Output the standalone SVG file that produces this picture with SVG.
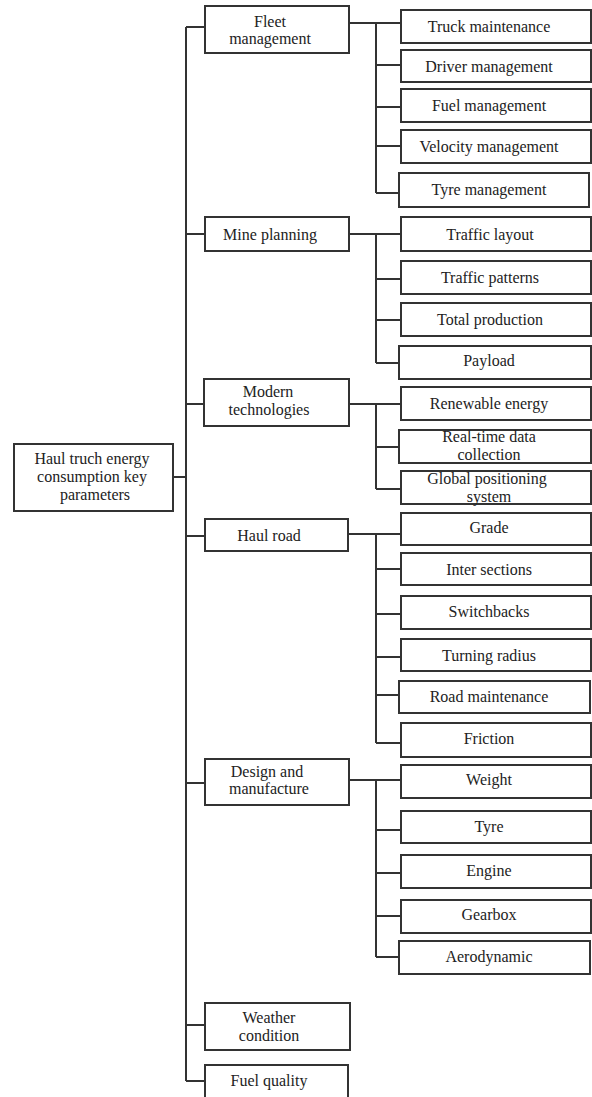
<svg xmlns="http://www.w3.org/2000/svg" width="592" height="1097" viewBox="0 0 592 1097">
<style>
rect{fill:#fff;stroke:#333;stroke-width:2}
.c path{fill:none;stroke:#333;stroke-width:2}
text{font-family:"Liberation Serif","Times New Roman",serif;font-size:16px;fill:#222;text-anchor:middle}
.s{font-size:16px}
</style>
<rect x="0" y="0" width="592" height="1097" style="stroke:none"/>
<g class="c" id="connectors">
<path d="M173,477H186M186,27V1081"/>
<path d="M186,27H205M186,234H205M186,404H204M186,536H205M186,783H205M186,1025H205M186,1081H205"/>
<path d="M349,23H401M376,23V193M376,65H401M376,107H401M376,146H401M376,193H399"/>
<path d="M349,234H401M376,234V363M376,279H401M376,320H401M376,363H399"/>
<path d="M349,404H401M376,404V489M376,447H399M376,489H401"/>
<path d="M348,534H401M376,534V743M376,569H401M376,614H401M376,657H401M376,695H399M376,743H401"/>
<path d="M349,780H401M376,780V957M376,830H401M376,873H401M376,916H401M376,957H399"/>
</g>
<g id="root"><rect x="14" y="444" width="159" height="67"/><text x="92" y="464">Haul truch energy</text><text x="92" y="482">consumption key</text><text x="95" y="500">parameters</text></g>
<g id="fleet"><rect x="205" y="6" width="144" height="47"/><text x="270" y="27">Fleet</text><text x="270" y="44">management</text></g>
<g id="mine"><rect x="205" y="217" width="144" height="34"/><text x="270" y="240">Mine planning</text></g>
<g id="modern"><rect x="204" y="379" width="145" height="47"/><text x="268" y="397">Modern</text><text x="269" y="415">technologies</text></g>
<g id="haul"><rect x="205" y="519" width="143" height="32"/><text x="269" y="541">Haul road</text></g>
<g id="design"><rect x="205" y="759" width="144" height="46"/><text x="267" y="777">Design and</text><text x="269" y="794">manufacture</text></g>
<g id="weather"><rect x="205" y="1003" width="145" height="47"/><text x="269" y="1023">Weather</text><text x="269" y="1041">condition</text></g>
<g id="fuelq"><rect x="205" y="1065" width="143" height="40"/><text x="269" y="1086">Fuel quality</text></g>
<g id="truck"><rect x="401" y="10" width="190" height="33"/><text x="489" y="32">Truck maintenance</text></g>
<g id="driver"><rect x="401" y="50" width="190" height="32"/><text x="489" y="72">Driver management</text></g>
<g id="fuelm"><rect x="401" y="89" width="190" height="33"/><text x="489" y="111">Fuel management</text></g>
<g id="velocity"><rect x="401" y="130" width="190" height="33"/><text x="489" y="152">Velocity management</text></g>
<g id="tyrem"><rect x="399" y="173" width="190" height="34"/><text x="489" y="195">Tyre management</text></g>
<g id="tlayout"><rect x="401" y="217" width="190" height="34"/><text x="490" y="240">Traffic layout</text></g>
<g id="tpatterns"><rect x="401" y="261" width="190" height="33"/><text x="490" y="283">Traffic patterns</text></g>
<g id="totalp"><rect x="401" y="303" width="190" height="33"/><text x="490" y="325">Total production</text></g>
<g id="payload"><rect x="399" y="346" width="192" height="33"/><text x="489" y="366">Payload</text></g>
<g id="renew"><rect x="401" y="387" width="190" height="33"/><text x="489" y="409">Renewable energy</text></g>
<g id="realtime"><rect x="399" y="430" width="192" height="33"/><text x="489" y="442">Real-time data</text><text x="489" y="460">collection</text></g>
<g id="gps"><rect x="401" y="471" width="190" height="33"/><text x="487" y="484">Global positioning</text><text x="489" y="502">system</text></g>
<g id="grade"><rect x="401" y="513" width="190" height="32"/><text x="489" y="533">Grade</text></g>
<g id="inter"><rect x="401" y="553" width="190" height="32"/><text x="489" y="575">Inter sections</text></g>
<g id="switch"><rect x="401" y="596" width="190" height="33"/><text x="489" y="617">Switchbacks</text></g>
<g id="turning"><rect x="401" y="639" width="190" height="32"/><text x="489" y="661">Turning radius</text></g>
<g id="roadm"><rect x="399" y="681" width="191" height="32"/><text x="489" y="702">Road maintenance</text></g>
<g id="friction"><rect x="401" y="723" width="190" height="34"/><text x="489" y="744">Friction</text></g>
<g id="weight"><rect x="401" y="765" width="190" height="33"/><text x="489" y="785">Weight</text></g>
<g id="tyre"><rect x="401" y="811" width="190" height="32"/><text x="489" y="832">Tyre</text></g>
<g id="engine"><rect x="401" y="855" width="190" height="33"/><text x="489" y="876">Engine</text></g>
<g id="gearbox"><rect x="401" y="900" width="190" height="33"/><text x="489" y="920">Gearbox</text></g>
<g id="aero"><rect x="399" y="941" width="191" height="33"/><text x="489" y="962">Aerodynamic</text></g>
</svg>
